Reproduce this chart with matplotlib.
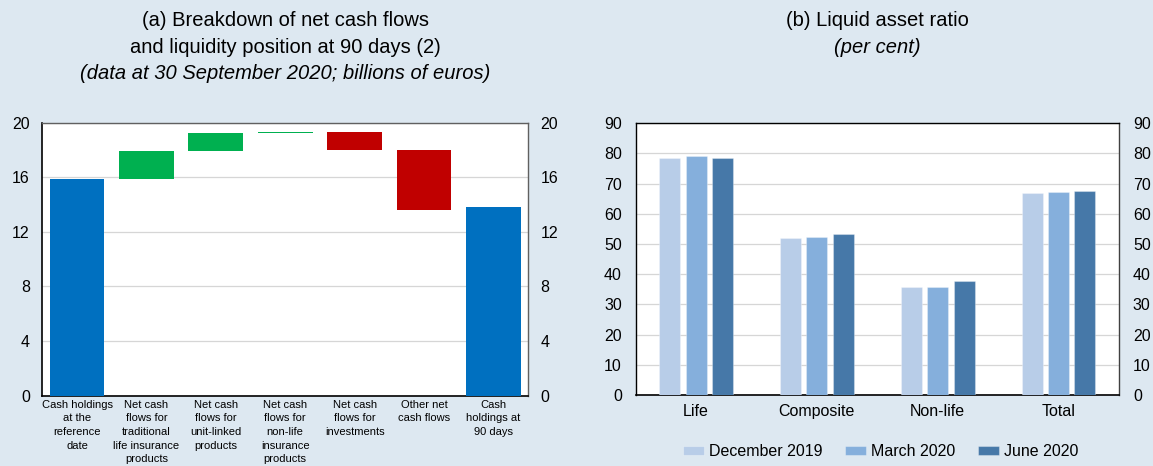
import matplotlib
matplotlib.use("Agg")
import matplotlib.pyplot as plt
import numpy as np

plt.rcParams['font.family'] = ['Liberation Sans', 'DejaVu Sans']

# panel (a): waterfall, billions of euros
flow_labels = ["Cash holdings\nat the\nreference\ndate",
               "Net cash\nflows for\ntraditional\nlife insurance\nproducts",
               "Net cash\nflows for\nunit-linked\nproducts",
               "Net cash\nflows for\nnon-life\ninsurance\nproducts",
               "Net cash\nflows for\ninvestments",
               "Other net\ncash flows",
               "Cash\nholdings at\n90 days"]
start_cash = 15.9
flow_deltas = [2.05, 1.3, 0.08, -1.3, -4.4]
end_cash = 13.8

# panel (b): liquid asset ratio, per cent
sectors = ["Life", "Composite", "Non-life", "Total"]
dec_2019 = [78.5, 52.0, 35.9, 66.8]
mar_2020 = [79.1, 52.3, 35.7, 67.4]
jun_2020 = [78.5, 53.3, 37.9, 67.6]
series_names = ["December 2019", "March 2020", "June 2020"]

bg = "#dde8f1"
blue = "#0070c0"
green = "#00b050"
red = "#c00000"
bar_cols = ["#b8cde8", "#85afdc", "#4678a8"]

fig = plt.figure(figsize=(11.53, 4.66), dpi=100)
fig.patch.set_facecolor(bg)

# ---- left panel ----
ax1 = fig.add_axes([0.0367, 0.1509, 0.4213, 0.5858])
x = np.arange(len(flow_labels))
w = 0.79
levels = start_cash + np.cumsum([0] + flow_deltas)
ax1.bar(x[0], start_cash, width=w, color=blue, zorder=3)
for i, d in enumerate(flow_deltas):
    lo = min(levels[i], levels[i + 1])
    ax1.bar(x[i + 1], abs(d), bottom=lo, width=w,
            color=green if d > 0 else red, zorder=3)
ax1.bar(x[-1], end_cash, width=w, color=blue, zorder=3)

ax1.set_xlim(-0.5, len(flow_labels) - 0.5)
ax1.set_ylim(0, 20)
ax1.set_yticks([0, 4, 8, 12, 16, 20])
ax1.set_xticks(x)
ax1.set_xticklabels(flow_labels, fontsize=8, linespacing=1.45, va="top")
ax1.tick_params(axis="x", length=0, pad=3)
ax1.tick_params(axis="y", length=0, labelsize=11.5, labelright=True, pad=9)
ax1.yaxis.grid(True, color="#d6d6d6", lw=0.9, zorder=0)
ax1.set_axisbelow(True)
for s in ["left", "bottom"]:
    ax1.spines[s].set_color("black")
    ax1.spines[s].set_linewidth(1.2)
for s in ["top", "right"]:
    ax1.spines[s].set_color("#606060")
    ax1.spines[s].set_linewidth(1.0)

cx1 = 0.0367 + 0.4213 / 2
fig.text(cx1, 0.955, "(a) Breakdown of net cash flows", ha="center", va="center", fontsize=14.5)
fig.text(cx1, 0.899, "and liquidity position at 90 days (2)", ha="center", va="center", fontsize=14.5)
fig.text(cx1, 0.843, "(data at 30 September 2020; billions of euros)", ha="center", va="center",
         fontsize=14.5, style="italic")

# ---- right panel ----
ax2 = fig.add_axes([0.5513, 0.1524, 0.4192, 0.583])
xs = np.arange(len(sectors))
bw = 0.174
step = 0.218
for k, vals in enumerate([dec_2019, mar_2020, jun_2020]):
    ax2.bar(xs + (k - 1) * step, vals, width=bw, color=bar_cols[k],
            edgecolor=(1, 1, 1, 0.3), lw=0.8, label=series_names[k], zorder=3)
ax2.set_xlim(-0.5, len(sectors) - 0.5)
ax2.set_ylim(0, 90)
ax2.set_yticks(range(0, 91, 10))
ax2.set_xticks(xs)
ax2.set_xticklabels(sectors, fontsize=11.5)
ax2.tick_params(axis="x", length=0, pad=6.5)
ax2.tick_params(axis="y", length=0, labelsize=11.5, labelright=True, pad=10)
ax2.yaxis.grid(True, color="#d6d6d6", lw=0.9, zorder=0)
ax2.set_axisbelow(True)
for s in ax2.spines.values():
    s.set_color("black")
    s.set_linewidth(1.0)
ax2.spines["right"].set_color("#404040")
ax2.spines["bottom"].set_linewidth(1.2)

cx2 = 0.5513 + 0.4192 / 2
fig.text(cx2, 0.955, "(b) Liquid asset ratio", ha="center", va="center", fontsize=14.5)
fig.text(cx2, 0.899, "(per cent)", ha="center", va="center", fontsize=14.5, style="italic")

fig.legend(loc="center", bbox_to_anchor=(0.7637, 0.031), ncol=3, frameon=False,
           fontsize=11.5, handlelength=1.3, handleheight=0.55, handletextpad=0.3,
           columnspacing=1.45)

fig.savefig("out.png", dpi=100, facecolor=bg)
